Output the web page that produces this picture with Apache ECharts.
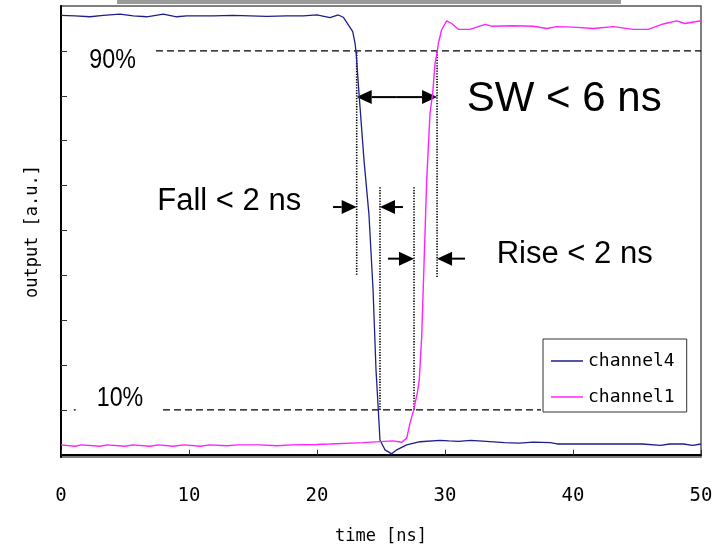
<!DOCTYPE html>
<html>
<head>
<meta charset="utf-8">
<script src="https://cdn.jsdelivr.net/npm/echarts@6/dist/echarts.min.js"></script>
<style>
  html, body { margin: 0; padding: 0; background: #fff; }
  #chart { width: 721px; height: 555px; }
</style>
</head>
<body>
<div id="chart"></div>
<script>
// channel4: falling edge (time in ns, normalised output)
const ch4Time  = [0, 1.09, 2.27, 3.30, 4.61, 5.65, 6.70, 7.99, 9.04, 9.82, 11.90, 13.46, 16.07, 17.63, 18.93, 19.98,
                  21.02, 21.66, 22.05, 22.45, 22.79, 22.97, 23.05, 23.30, 23.67, 24.06, 24.38, 24.61, 24.79, 24.92,
                  25.31, 25.84, 26.23, 27.01, 28.05, 29.61, 30.30, 31.07, 32.00, 33.22, 34.66, 35.80, 36.90, 38.24,
                  38.77, 41.82, 45.41, 46.84, 47.55, 48.63, 49.35, 50];
const ch4Value = [0.979, 0.978, 0.976, 0.979, 0.982, 0.978, 0.976, 0.982, 0.976, 0.978, 0.978, 0.979, 0.977, 0.978, 0.978, 0.980,
                  0.974, 0.980, 0.975, 0.958, 0.943, 0.917, 0.898, 0.798, 0.657, 0.535, 0.367, 0.189, 0.100, 0.033,
                  0.011, 0.002, 0.011, 0.022, 0.029, 0.032, 0.031, 0.030, 0.032, 0.030, 0.027, 0.026, 0.028, 0.027,
                  0.024, 0.024, 0.024, 0.021, 0.024, 0.024, 0.021, 0.024];

// channel1: rising edge
const ch1Time  = [0, 1.1, 1.6, 3.05, 3.6, 5.0, 5.6, 6.95, 7.6, 8.75, 9.6, 10.9, 11.6, 12.95, 13.8, 15.5, 16.9, 18.0, 20.0,
                  21.02, 23.59, 25.94, 26.62, 27.01, 27.27, 27.52, 27.84, 27.99, 28.18, 28.57, 28.83, 29.04, 29.22,
                  29.40, 29.48, 29.74, 30.13, 30.52, 31.04, 31.95, 33.13, 33.65, 35.34, 36.90, 37.95, 38.73, 40.02,
                  41.59, 43.15, 44.71, 45.88, 47.05, 48.10, 48.75, 50];
const ch1Value = [0.022, 0.019, 0.022, 0.019, 0.022, 0.019, 0.022, 0.019, 0.022, 0.019, 0.022, 0.019, 0.022, 0.020, 0.022, 0.022, 0.020, 0.022, 0.023,
                  0.024, 0.027, 0.031, 0.028, 0.037, 0.071, 0.096, 0.138, 0.167, 0.263, 0.612, 0.761, 0.806, 0.872,
                  0.898, 0.917, 0.947, 0.967, 0.961, 0.948, 0.948, 0.959, 0.955, 0.956, 0.955, 0.950, 0.954, 0.953,
                  0.950, 0.954, 0.948, 0.948, 0.960, 0.967, 0.961, 0.967];

const seriesNames = ['channel4', 'channel1'];
const seriesColors = ['#1e1e8c', '#ff22ff'];
const yTickValues = [0.1, 0.2, 0.3, 0.4, 0.5, 0.6, 0.7, 0.8, 0.9];

// 90 % / 10 % threshold lines
const thresholdLevel = [0.9, 0.1];
const thresholdFrom  = [7.42, 7.97];
const thresholdTo    = [50, 37.5];

// edge crossing times: 90% fall, 10% fall, 10% rise, 90% rise
const edgeTime   = [23.1, 24.92, 27.58, 29.38];
const edgeBottom = [0.401, 0.100, 0.100, 0.396];
const edgeTop    = [0.898, 0.599, 0.597, 0.898];

// arrow rows
const swLevel   = 0.797;
const fallLevel = 0.552;
const riseLevel = 0.437;
const fallTails = [21.25, 26.72];
const riseTails = [25.55, 31.56];

// text annotations
const noteText  = ['90%', '10%', 'SW < 6 ns', 'Fall < 2 ns', 'Rise < 2 ns'];
const noteTime  = [2.21, 2.79, 31.70, 7.52, 34.04];
const noteLevel = [0.880, 0.125, 0.791, 0.565, 0.447];
const noteSize  = [28, 28, 42, 31, 31];
const noteScale = [0.83, 0.83, 1, 1, 1];

const monoFont = '"DejaVu Sans Mono", monospace';
const sansFont = '"Liberation Sans", Arial, sans-serif';

const chart = echarts.init(document.getElementById('chart'), null, { renderer: 'canvas' });

const zip = (xs, ys) => xs.map((x, i) => [x, ys[i]]);

chart.setOption({
  animation: false,
  backgroundColor: '#fff',
  grid: { left: 61, right: 20, top: 6, bottom: 98, show: true, borderColor: '#555', borderWidth: 1.5 },
  legend: {
    data: seriesNames,
    orient: 'vertical',
    left: 543, top: 339,
    icon: 'rect',
    itemWidth: 32, itemHeight: 1.5, itemGap: 18,
    padding: [13, 12, 6, 8],
    borderColor: '#333', borderWidth: 1, borderRadius: 0,
    backgroundColor: '#fff',
    textStyle: { fontFamily: monoFont, fontSize: 18, color: '#000' }
  },
  xAxis: {
    type: 'value', min: 0, max: 50, interval: 10,
    axisLine: { lineStyle: { color: '#000', width: 2 } },
    axisTick: { inside: true, length: 5, lineStyle: { color: '#333', width: 1 } },
    axisLabel: { margin: 30, fontFamily: monoFont, fontSize: 19, color: '#000' },
    splitLine: { show: false },
    name: 'time [ns]', nameLocation: 'middle', nameGap: 71,
    nameTextStyle: { fontFamily: monoFont, fontSize: 17, color: '#000' }
  },
  yAxis: {
    type: 'value', min: -0.005, max: 1,
    axisLine: { show: true, lineStyle: { color: '#000', width: 2 } },
    axisTick: { show: true, inside: true, length: 6, customValues: yTickValues, lineStyle: { color: '#333', width: 1 } },
    axisLabel: { show: false },
    splitLine: { show: false },
    name: 'output [a.u.]', nameLocation: 'middle', nameGap: 20, nameRotate: 90,
    nameTextStyle: { fontFamily: monoFont, fontSize: 17, color: '#000' }
  },
  series: [
    {
      name: seriesNames[0], type: 'line', data: zip(ch4Time, ch4Value),
      symbol: 'none', lineStyle: { color: seriesColors[0], width: 1.3 }, itemStyle: { color: seriesColors[0] }
    },
    {
      name: seriesNames[1], type: 'line', data: zip(ch1Time, ch1Value),
      symbol: 'none', lineStyle: { color: seriesColors[1], width: 1.4 }, itemStyle: { color: seriesColors[1] }
    }
  ]
});

// annotations placed through the chart's own coordinate system
const px = (t, v) => chart.convertToPixel({ xAxisIndex: 0, yAxisIndex: 0 }, [t, v]);
const elements = [];

// header bar above the plot
elements.push({ type: 'rect', shape: { x: 117, y: 0, width: 504, height: 4 }, style: { fill: '#9b9b9b' }, z: 3 });

function segment(a, b, dash, width) {
  elements.push({
    type: 'line', z: 3, silent: true,
    shape: { x1: a[0], y1: a[1], x2: b[0], y2: b[1] },
    style: { stroke: '#000', lineWidth: width, lineDash: dash }
  });
}

function arrow(tailT, tipT, level) {
  const tail = px(tailT, level), tip = px(tipT, level);
  const dir = Math.sign(tip[0] - tail[0]);
  const headLen = 15, half = 7;
  const base = [tip[0] - dir * headLen, tip[1]];
  segment(tail, base, null, 2);
  elements.push({
    type: 'polygon', z: 3, silent: true,
    shape: { points: [tip, [base[0], base[1] - half], [base[0], base[1] + half]] },
    style: { fill: '#000' }
  });
}

thresholdLevel.forEach((lv, i) => segment(px(thresholdFrom[i], lv), px(thresholdTo[i], lv), [7, 4], 1.3));
segment(px(1.0, 0.1), px(1.15, 0.1), null, 1.3);

edgeTime.forEach((t, i) => segment(px(t, edgeBottom[i]), px(t, edgeTop[i]), [1.3, 1.4], 1.6));

// switching-window double arrow
const swMid = (edgeTime[0] + edgeTime[3]) / 2;
arrow(swMid, edgeTime[0], swLevel);
arrow(swMid, edgeTime[3], swLevel);
// fall / rise arrows
arrow(fallTails[0], edgeTime[0], fallLevel);
arrow(fallTails[1], edgeTime[1], fallLevel);
arrow(riseTails[0], edgeTime[2], riseLevel);
arrow(riseTails[1], edgeTime[3], riseLevel);

noteText.forEach((txt, i) => {
  const p = px(noteTime[i], noteLevel[i]);
  elements.push({
    type: 'text', z: 3, silent: true,
    x: p[0], y: p[1], scaleX: noteScale[i],
    style: {
      text: txt, fill: '#000',
      fontSize: noteSize[i], fontFamily: sansFont,
      align: 'left', verticalAlign: 'middle',
      textAlign: 'left', textVerticalAlign: 'middle'
    }
  });
});

chart.setOption({ graphic: { elements: elements } });
</script>
</body>
</html>
